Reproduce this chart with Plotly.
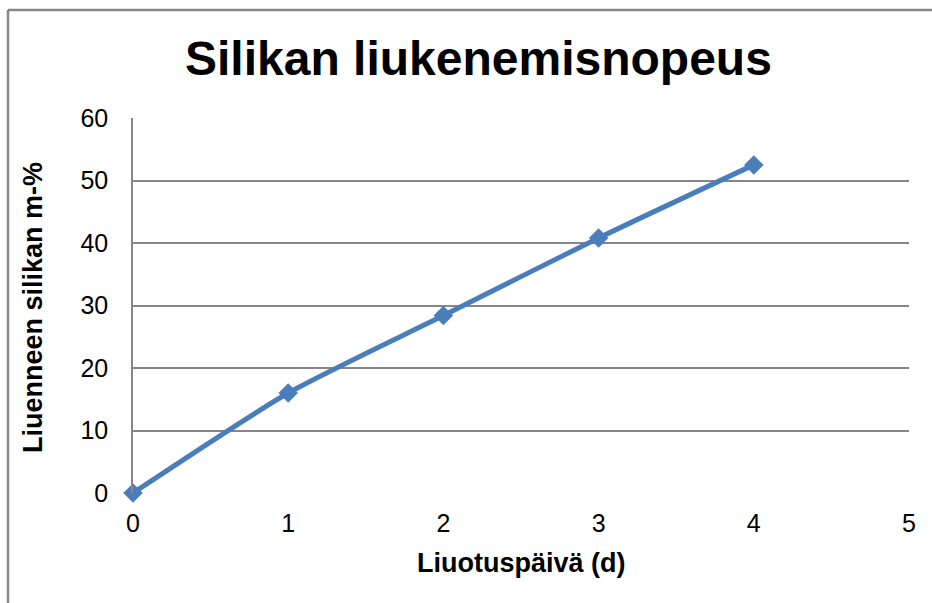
import plotly.graph_objects as go

days = [0, 1, 2, 3, 4]
dissolved = [0, 16.0, 28.4, 40.8, 52.5]
title_text = "Silikan liukenemisnopeus"
x_title = "Liuotuspäivä (d)"
y_title = "Liuenneen silikan m-%"
y_ticks = [0, 10, 20, 30, 40, 50, 60]
x_ticks = [0, 1, 2, 3, 4, 5]

W, H = 932, 603
L, R, T, B = 133, 23, 118, 110
pw, ph = W - L - R, H - T - B

def px_x(p):
    return (p - L) / pw

def px_y(p):
    return (H - B - p) / ph

fig = go.Figure()
fig.add_trace(go.Scatter(
    x=days, y=dissolved, mode="lines+markers",
    line=dict(color="#4A7EBB", width=5, shape="spline", smoothing=0.6),
    marker=dict(symbol="diamond", size=15, color="#4A7EBB"),
    cliponaxis=False,
    showlegend=False,
))

font = "Liberation Sans, Arial, sans-serif"
fig.update_layout(
    width=W, height=H,
    margin=dict(l=L, r=R, t=T, b=B),
    paper_bgcolor="white", plot_bgcolor="white",
    font=dict(family=font, size=25, color="black"),
    showlegend=False,
)
fig.update_xaxes(
    range=[0, 5], tickvals=x_ticks, showgrid=False, zeroline=False,
    showline=False, ticks="", ticklabelstandoff=13,
    tickfont=dict(size=25),
)
fig.update_yaxes(
    range=[0, 60], tickvals=y_ticks, showgrid=True, gridcolor="#878787",
    gridwidth=1.5, zeroline=False, showline=True, linecolor="#878787",
    linewidth=1.5, ticks="", ticklabelstandoff=18, tickfont=dict(size=25),
)
# Excel-style title and axis titles
fig.add_annotation(text="<b>%s</b>" % title_text, xref="paper", yref="paper",
                   x=px_x(478), y=px_y(58), showarrow=False,
                   font=dict(size=48, family=font), xanchor="center", yanchor="middle")
fig.add_annotation(text="<b>%s</b>" % x_title, xref="paper", yref="paper",
                   x=px_x(521), y=px_y(563), showarrow=False,
                   font=dict(size=27, family=font), xanchor="center", yanchor="middle")
fig.add_annotation(text="<b>%s</b>" % y_title, xref="paper", yref="paper",
                   x=px_x(33), y=px_y(308), showarrow=False, textangle=-90,
                   font=dict(size=27, family=font), xanchor="center", yanchor="middle")
# outer chart border (left and top visible)
fig.add_shape(type="line", xref="paper", yref="paper",
              x0=px_x(8), y0=px_y(H + 5), x1=px_x(8), y1=px_y(10),
              line=dict(color="#888888", width=2.5))
fig.add_shape(type="line", xref="paper", yref="paper",
              x0=px_x(8), y0=px_y(10), x1=px_x(W + 5), y1=px_y(10),
              line=dict(color="#888888", width=2.5))

fig.write_html("out.html", config={"displayModeBar": False},
               post_script="document.body.style.margin='0';document.body.style.overflow='hidden';")
